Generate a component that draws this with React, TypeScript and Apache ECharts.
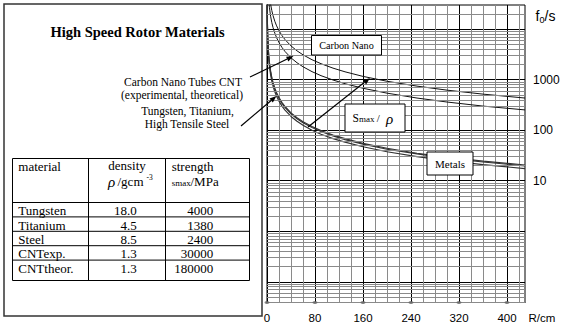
import React, { useEffect, useRef } from "react";
import * as echarts from "echarts";

// ---- data ----
// radius R (cm) sample points and rotation frequency f0 (1/s)
const R_METAL = [0.2, 0.5, 1, 2, 3, 4, 6, 8, 10, 13, 16, 20, 25, 30, 40, 50, 60, 75, 90, 110, 130, 160, 200, 250, 300, 360, 430];
const F_TUNGSTEN = [37500, 15000, 7500, 3750, 2500, 1870, 1250, 937, 750, 577, 469, 375, 300, 250, 187, 150, 125, 100, 83, 68, 58, 47, 37.5, 30, 25, 20.8, 17.4];
const F_STEEL = [42300, 16900, 8450, 4230, 2820, 2110, 1410, 1056, 845, 650, 528, 423, 338, 282, 211, 169, 141, 113, 94, 77, 65, 53, 42, 34, 28, 23.5, 19.7];
const F_TITANIUM = [44100, 17600, 8820, 4410, 2940, 2200, 1470, 1100, 882, 678, 551, 441, 353, 294, 220, 176, 147, 118, 98, 80, 68, 55, 44, 35, 29.4, 24.5, 20.5];

const R_CNT = [3, 4, 6, 8, 10, 13, 16, 20, 25, 30, 40, 50, 60, 75, 90, 110, 130, 160, 200, 250, 300, 360, 430];
const F_CNT_THEOR = [62000, 46500, 31000, 23300, 18600, 14300, 11600, 9300, 7450, 6200, 4650, 3720, 3100, 2480, 2070, 1690, 1430, 1160, 930, 745, 620, 517, 433];
const F_CNT_EXP = [36000, 27000, 18000, 13500, 10800, 8320, 6760, 5410, 4330, 3610, 2700, 2160, 1800, 1440, 1200, 984, 832, 676, 541, 433, 361, 300, 252];

// table
const MATERIALS = ["Tungsten", "Titanium", "Steel", "CNTexp.", "CNTtheor."];
const DENSITY = ["18.0", "4.5", "8.5", "1.3", "1.3"];
const STRENGTH = ["4000", "1380", "2400", "30000", "180000"];

// axes
const X_LABELS = [0, 80, 160, 240, 320, 400];
const Y_LABELS = [10, 100, 1000];
const MINOR_MULTS = [2, 3, 4, 5, 6, 7, 8, 9];
const DECADES = [0.01, 0.1, 1, 10, 100, 1000, 10000];
const Y_MIN = 0.039;
const Y_MAX = 30000;

const SERIF = '"Liberation Serif", "Times New Roman", serif';
const SANS = '"Liberation Sans", Arial, sans-serif';

function arrow(x1: number, y1: number, x2: number, y2: number) {
  const dx = x2 - x1, dy = y2 - y1;
  const len = Math.hypot(dx, dy);
  const ux = dx / len, uy = dy / len;
  const hl = 7, hw = 2.6;
  const bx = x2 - ux * hl, by = y2 - uy * hl;
  return [
    { type: "line", z: 100, shape: { x1, y1, x2: bx, y2: by }, style: { stroke: "#000", lineWidth: 1.2 } },
    {
      type: "polygon", z: 100,
      shape: { points: [[x2, y2], [bx - uy * hw, by + ux * hw], [bx + uy * hw, by - ux * hw]] },
      style: { fill: "#000" },
    },
  ];
}

function txt(x: number, y: number, text: string, size: number, align = "left", extra: any = {}) {
  return {
    type: "text", z: 100, x, y,
    style: { text, fontSize: size, fontFamily: SERIF, fill: "#000", align, verticalAlign: "middle", ...extra },
  };
}

function box(x: number, y: number, w: number, h: number) {
  return { type: "rect", z: 99, shape: { x, y, width: w, height: h }, style: { fill: "#fff", stroke: "#000", lineWidth: 1 } };
}

function hline(x1: number, x2: number, y: number) {
  return { type: "line", z: 100, shape: { x1, y1: y, x2, y2: y }, style: { stroke: "#000", lineWidth: 1 } };
}
function vline(x: number, y1: number, y2: number) {
  return { type: "line", z: 100, shape: { x1: x, y1, x2: x, y2 }, style: { stroke: "#000", lineWidth: 1 } };
}

export default function App() {
  const ref = useRef<HTMLDivElement>(null);

  useEffect(() => {
    if (!ref.current) return;
    const chart = echarts.init(ref.current, undefined, { renderer: "svg" });

    const minorVals: number[] = [];
    DECADES.forEach((d) => MINOR_MULTS.forEach((m) => {
      const v = d * m;
      if (v > Y_MIN && v < Y_MAX) minorVals.push(v);
    }));

    // table graphics
    const tX0 = 12.5, tX1 = 249.5, tC1 = 88.5, tC2 = 165.5;
    const tY0 = 158.5, tHead = 202.5, tY1 = 280.5;
    const rowH = 14.4;
    const table: any[] = [
      { type: "rect", z: 100, shape: { x: tX0, y: tY0, width: tX1 - tX0, height: tY1 - tY0 }, style: { fill: "none", stroke: "#000", lineWidth: 1 } },
      vline(tC1, tY0, tY1),
      vline(tC2, tY0, tY1),
      hline(tX0, tX1, tHead),
      txt(18.3, 166, "material", 13),
      txt(127, 165.5, "density", 13, "center"),
      txt(108, 182, "ρ", 15, "left", { fontStyle: "italic" }),
      txt(117.5, 181.5, "/gcm", 13),
      txt(146.5, 177, "-3", 7.5),
      txt(171.7, 166, "strength", 13),
      txt(171.7, 182.5, "smax", 9),
      txt(190.5, 181.5, "/MPa", 13),
    ];
    MATERIALS.forEach((m, i) => {
      const yc = 210.7 + i * rowH;
      if (i > 0) table.push(hline(tX0, tX1, tHead + i * rowH));
      table.push(txt(18.3, yc, m, 13));
      table.push(txt(136.7, yc, DENSITY[i], 13, "right"));
      table.push(txt(213.3, yc, STRENGTH[i], 13, "right"));
    });

    const graphic: any[] = [
      { type: "rect", z: 100, shape: { x: 4, y: 4, width: 258, height: 312 }, style: { fill: "none", stroke: "#333", lineWidth: 1.5 } },
      txt(137.5, 31.5, "High Speed Rotor Materials", 14.5, "center", { fontWeight: "bold" }),
      txt(183, 81.7, "Carbon Nano Tubes CNT", 11.5, "center"),
      txt(182, 94.5, "(experimental, theoretical)", 11.5, "center"),
      txt(187.5, 110.5, "Tungsten, Titanium,", 11.5, "center"),
      txt(187, 124, "High Tensile Steel", 11.5, "center"),
      ...table,
      ...arrow(250, 77, 293.5, 56),
      ...arrow(241, 126, 276.5, 96),
      ...arrow(308, 127, 370, 78),
      box(311.5, 35.5, 70, 19.5),
      txt(346.5, 45.5, "Carbon Nano", 10.2, "center"),
      box(345, 104, 60, 28),
      txt(352.5, 118, "S", 11.5),
      txt(359, 119, "max", 9),
      txt(374, 118, " / ", 11),
      txt(386, 118.5, "ρ", 15, "left", { fontStyle: "italic" }),
      box(427, 152, 46, 23),
      txt(450, 163.5, "Metals", 11, "center"),
      {
        type: "text", z: 100, x: 535.5, y: 16,
        style: { text: "f", fontSize: 14, fontFamily: SANS, fill: "#000", align: "left", verticalAlign: "middle" },
      },
      {
        type: "text", z: 100, x: 539.5, y: 19.5,
        style: { text: "0", fontSize: 9, fontFamily: SANS, fill: "#000", align: "left", verticalAlign: "middle" },
      },
      {
        type: "text", z: 100, x: 544.6, y: 16,
        style: { text: "/s", fontSize: 14, fontFamily: SANS, fill: "#000", align: "left", verticalAlign: "middle" },
      },
      {
        type: "text", z: 100, x: 528.5, y: 318,
        style: { text: "R/cm", fontSize: 11.5, fontFamily: SANS, fill: "#000", align: "left", verticalAlign: "middle" },
      },
    ];

    const curve = (xs: number[], ys: number[], color: string, width = 1) => ({
      type: "line",
      data: xs.map((r, i) => [r, ys[i]]),
      symbol: "none",
      smooth: false,
      z: 3,
      silent: true,
      lineStyle: { color, width },
    });

    chart.setOption({
      animation: false,
      backgroundColor: "#fff",
      grid: { left: 267, right: 42, top: 5, bottom: 29.5, show: true, borderColor: "#000", borderWidth: 1, containLabel: false, outerBoundsMode: "none" },
      xAxis: {
        type: "value",
        min: 0,
        max: 430,
        interval: 20,
        axisLine: { show: true, lineStyle: { color: "#000", width: 1 } },
        axisTick: { show: false },
        axisLabel: {
          margin: 9,
          fontSize: 11.5,
          fontFamily: SANS,
          color: "#000",
          formatter: (v: number) => (X_LABELS.indexOf(Math.round(v)) >= 0 && Math.abs(v - Math.round(v)) < 1e-6 ? String(Math.round(v)) : ""),
        },
        splitLine: { show: true, showMaxLine: false, lineStyle: { color: ["#000", "#8a8a8a", "#8a8a8a", "#8a8a8a"], width: 1 } },
      },
      yAxis: {
        type: "log",
        logBase: 10,
        min: Y_MIN,
        max: Y_MAX,
        position: "right",
        axisLine: { show: true, lineStyle: { color: "#000", width: 1 } },
        axisTick: { show: false },
        axisLabel: {
          margin: 8,
          fontSize: 12,
          fontFamily: SANS,
          color: "#000",
          formatter: (v: number) => {
            const hit = Y_LABELS.find((t) => Math.abs(v - t) / t < 1e-6);
            return hit ? String(hit) : "";
          },
        },
        splitLine: { show: true, showMinLine: false, showMaxLine: false, lineStyle: { color: "#000", width: 1 } },
      },
      series: [
        {
          type: "line",
          data: [[100, 1]],
          symbol: "none",
          z: 1,
          silent: true,
          lineStyle: { opacity: 0 },
          markLine: {
            silent: true,
            animation: false,
            symbol: ["none", "none"],
            label: { show: false },
            lineStyle: { color: "#8a8a8a", width: 1, type: "solid" },
            emphasis: { disabled: true },
            data: minorVals.map((v) => ({ yAxis: v })),
          },
        },
        curve(R_CNT, F_CNT_THEOR, "#111"),
        curve(R_CNT, F_CNT_EXP, "#111"),
        curve(R_METAL, F_TUNGSTEN, "#333", 1.2),
        curve(R_METAL, F_STEEL, "#333", 1.2),
        curve(R_METAL, F_TITANIUM, "#333", 1.2),
        {
          type: "scatter",
          data: X_LABELS.map((r) => [r, Y_MIN]),
          symbol: "circle",
          symbolSize: [5, 3],
          z: 5,
          silent: true,
          itemStyle: { color: "#666" },
        },
      ],
      graphic,
    });

    return () => chart.dispose();
  }, []);

  return (
    <div
      ref={ref}
      style={{ position: "fixed", left: 0, top: 0, width: 567, height: 332, background: "#fff" }}
    />
  );
}
